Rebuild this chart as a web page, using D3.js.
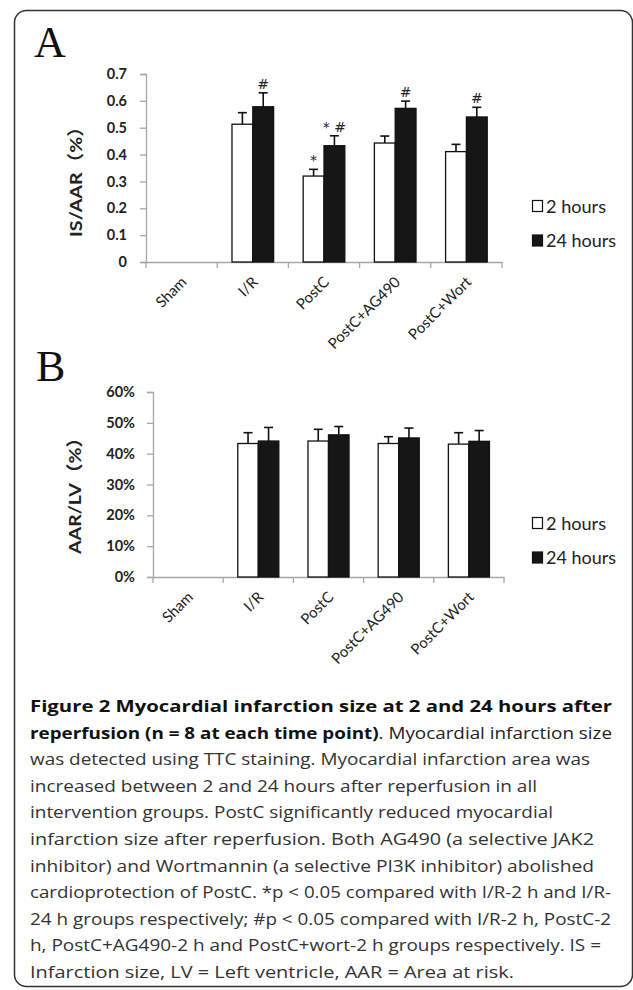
<!DOCTYPE html>
<html>
<head>
<meta charset="utf-8">
<script src="https://cdn.jsdelivr.net/npm/d3@7/dist/d3.min.js"></script>
<style>
  html, body { margin: 0; padding: 0; background: #fff; }
  svg { display: block; }
</style>
</head>
<body>
<script>
// ---------- DATA ----------
const categories = ["Sham", "I/R", "PostC", "PostC+AG490", "PostC+Wort"];
const seriesNames = ["2 hours", "24 hours"];

// Panel A: IS/AAR
const isAar2h     = [null, 0.513, 0.320, 0.443, 0.411];
const isAar2hErr  = [null, 0.043, 0.025, 0.026, 0.027];
const isAar24h    = [null, 0.578, 0.433, 0.572, 0.540];
const isAar24hErr = [null, 0.052, 0.037, 0.027, 0.036];
const isAarTicks  = [0, 0.1, 0.2, 0.3, 0.4, 0.5, 0.6, 0.7];
const sigA2h      = ["", "", "*", "", ""];
const sigA24h     = ["", "#", "* #", "#", "#"];

// Panel B: AAR/LV
const aarLv2h     = [null, 0.433, 0.441, 0.433, 0.431];
const aarLv2hErr  = [null, 0.035, 0.038, 0.022, 0.037];
const aarLv24h    = [null, 0.441, 0.461, 0.451, 0.440];
const aarLv24hErr = [null, 0.044, 0.027, 0.032, 0.035];
const aarLvTicks  = [0, 0.1, 0.2, 0.3, 0.4, 0.5, 0.6];

const captionBold1 = "Figure 2 Myocardial infarction size at 2 and 24 hours after";
const captionBold2 = "reperfusion (n = 8 at each time point)";
const captionRest2 = ". Myocardial infarction size";
const captionLines = [
  "was detected using TTC staining. Myocardial infarction area was",
  "increased between 2 and 24 hours after reperfusion in all",
  "intervention groups. PostC significantly reduced myocardial",
  "infarction size after reperfusion. Both AG490 (a selective JAK2",
  "inhibitor) and Wortmannin (a selective PI3K inhibitor) abolished",
  "cardioprotection of PostC. *p < 0.05 compared with I/R-2 h and I/R-",
  "24 h groups respectively; #p < 0.05 compared with I/R-2 h, PostC-2",
  "h, PostC+AG490-2 h and PostC+wort-2 h groups respectively. IS =",
  "Infarction size, LV = Left ventricle, AAR = Area at risk."
];

// ---------- DRAW ----------
const W = 633, H = 990;
const svg = d3.select("body").append("svg").attr("width", W).attr("height", H);

svg.append("rect")
  .attr("x", 14.5).attr("y", 10.5).attr("width", 618).attr("height", 976)
  .attr("rx", 12).attr("ry", 12)
  .attr("fill", "none").attr("stroke", "#333").attr("stroke-width", 1.5);

const chartFont = "Lato, 'Open Sans', sans-serif";
const textColor = "#222";
const axisColor = "#a6a6a6";

function drawPanel(cfg) {
  const g = svg.append("g");
  const y = d3.scaleLinear().domain(cfg.domain).range([cfg.bottom, cfg.top]);
  const x0 = d3.scaleBand().domain(categories).range([cfg.left, cfg.right]).paddingInner(0).paddingOuter(0);
  const x1 = d3.scaleBand().domain(seriesNames).range([0, x0.bandwidth()]).paddingOuter(0.71).paddingInner(0);

  // letter
  g.append("text").attr("x", cfg.letterX).attr("y", cfg.letterY)
    .attr("font-family", "'Liberation Serif', 'DejaVu Serif', serif")
    .attr("font-size", 44).attr("fill", "#111").text(cfg.letter);

  // y axis
  const yAxis = d3.axisLeft(y).tickValues(cfg.ticks).tickSize(6).tickPadding(cfg.tickPad).tickFormat(cfg.fmt);
  const ya = g.append("g").attr("transform", `translate(${cfg.left},0)`).call(yAxis);
  ya.select(".domain").attr("stroke", axisColor).attr("stroke-width", 1.3);
  ya.selectAll(".tick line").attr("stroke", axisColor).attr("stroke-width", 1.3);
  ya.selectAll(".tick text").attr("font-family", chartFont).attr("font-weight", "bold")
    .attr("font-size", 14.5).attr("fill", textColor);

  // x axis
  const xAxis = d3.axisBottom(x0).tickSize(0).tickFormat("");
  const xa = g.append("g").attr("transform", `translate(0,${cfg.bottom})`).call(xAxis);
  xa.select(".domain").attr("stroke", axisColor).attr("stroke-width", 1.3);
  xa.selectAll(".tick").remove();
  const boundaries = categories.map(c => x0(c)).concat([x0(categories[categories.length - 1]) + x0.bandwidth()]);
  xa.selectAll("line.bnd").data(boundaries).enter().append("line")
    .attr("x1", d => d).attr("x2", d => d).attr("y1", 0).attr("y2", 6)
    .attr("stroke", axisColor).attr("stroke-width", 1.3);

  // x labels
  g.selectAll("text.xl").data(categories).enter().append("text")
    .attr("transform", d => `translate(${x0(d) + x0.bandwidth() / 2 + 6},${cfg.bottom + 21}) rotate(-45)`)
    .attr("text-anchor", "end")
    .attr("font-family", chartFont).attr("font-size", 15).attr("fill", textColor)
    .text(d => d);

  // y title
  g.append("text")
    .attr("transform", `translate(${cfg.titleX},${cfg.titleY}) rotate(-90)`)
    .attr("text-anchor", "middle").attr("dominant-baseline", "central")
    .attr("font-family", "Lato, 'Noto Sans CJK SC', sans-serif").attr("font-weight", "bold")
    .attr("font-size", 17).attr("fill", textColor)
    .attr("textLength", cfg.titleLen).attr("lengthAdjust", "spacingAndGlyphs")
    .text(cfg.title);

  // bars
  const series = [
    { name: seriesNames[0], vals: cfg.s1, errs: cfg.e1, sig: cfg.sig1, fill: "#ffffff" },
    { name: seriesNames[1], vals: cfg.s2, errs: cfg.e2, sig: cfg.sig2, fill: "#161616" }
  ];
  series.forEach(s => {
    const pts = categories.map((c, i) => ({ c, v: s.vals[i], e: s.errs[i], sig: s.sig ? s.sig[i] : "" }))
      .filter(d => d.v != null);
    const bx = d => x0(d.c) + x1(s.name);
    const bw = x1.bandwidth();
    g.selectAll(null).data(pts).enter().append("line")
      .attr("x1", d => bx(d) + bw / 2).attr("x2", d => bx(d) + bw / 2)
      .attr("y1", d => y(d.v)).attr("y2", d => y(d.v + d.e))
      .attr("stroke", "#111").attr("stroke-width", 1.6);
    g.selectAll(null).data(pts).enter().append("line")
      .attr("x1", d => bx(d) + bw / 2 - 4.5).attr("x2", d => bx(d) + bw / 2 + 4.5)
      .attr("y1", d => y(d.v + d.e)).attr("y2", d => y(d.v + d.e))
      .attr("stroke", "#111").attr("stroke-width", 1.6);
    g.selectAll(null).data(pts).enter().append("rect")
      .attr("x", d => bx(d)).attr("width", bw)
      .attr("y", d => y(d.v)).attr("height", d => y(0) - y(d.v))
      .attr("fill", s.fill).attr("stroke", "#111").attr("stroke-width", 1.3);
    g.selectAll(null).data(pts.filter(d => d.sig)).enter().append("text")
      .attr("x", d => bx(d) + bw / 2).attr("y", d => y(d.v + d.e) - 4)
      .attr("text-anchor", "middle")
      .attr("font-family", "'DejaVu Sans', sans-serif").attr("font-size", 14).attr("fill", "#222")
      .attr("xml:space", "preserve")
      .text(d => d.sig);
  });

  // legend
  const lg = g.append("g");
  seriesNames.forEach((n, i) => {
    const cy = cfg.legY + i * 34.5;
    lg.append("rect").attr("x", 532.5).attr("y", cy - 5.5).attr("width", 10).attr("height", 11)
      .attr("fill", i === 0 ? "#fff" : "#161616").attr("stroke", "#111").attr("stroke-width", 1.2);
    lg.append("text").attr("x", 546).attr("y", cy).attr("dominant-baseline", "central")
      .attr("font-family", chartFont).attr("font-size", 17).attr("fill", textColor)
      .attr("textLength", i === 0 ? 60 : 70).attr("lengthAdjust", "spacingAndGlyphs")
      .text(n);
  });
}

drawPanel({
  letter: "A", letterX: 34, letterY: 57,
  left: 146, right: 502, top: 74, bottom: 262, domain: [0, 0.7],
  ticks: isAarTicks, fmt: d => d === 0 ? "0" : d3.format(".1f")(d), tickPad: 13,
  title: "IS/AAR（%）", titleX: 75, titleY: 177, titleLen: 120,
  s1: isAar2h, e1: isAar2hErr, s2: isAar24h, e2: isAar24hErr, sig1: sigA2h, sig2: sigA24h,
  legY: 206
});

drawPanel({
  letter: "B", letterX: 36, letterY: 381,
  left: 153, right: 504, top: 392, bottom: 577, domain: [0, 0.6],
  ticks: aarLvTicks, fmt: d3.format(".0%"), tickPad: 12,
  title: "AAR/LV（%）", titleX: 74, titleY: 491, titleLen: 126,
  s1: aarLv2h, e1: aarLv2hErr, s2: aarLv24h, e2: aarLv24hErr, sig1: null, sig2: null,
  legY: 523
});

// caption
const capFont = "'Open Sans', 'Noto Sans', sans-serif";
const capX = 30, capY0 = 712, capDy = 26.6, capSize = 16.5;
const lineLens = [612, 612, 590, 537, 553, 594, 594, 611, 611, 601, 514];
svg.append("text").attr("x", capX).attr("y", capY0)
  .attr("font-family", capFont).attr("font-weight", "bold").attr("font-size", capSize).attr("fill", "#111")
  .attr("textLength", lineLens[0] - capX).attr("lengthAdjust", "spacingAndGlyphs")
  .text(captionBold1);
const l2 = svg.append("text").attr("x", capX).attr("y", capY0 + capDy)
  .attr("font-family", capFont).attr("font-size", capSize).attr("fill", "#222")
  .attr("textLength", lineLens[1] - capX).attr("lengthAdjust", "spacingAndGlyphs");
l2.append("tspan").attr("font-weight", "bold").attr("fill", "#111").text(captionBold2);
l2.append("tspan").text(captionRest2);
svg.selectAll("text.cap").data(captionLines).enter().append("text")
  .attr("class", "cap")
  .attr("x", capX).attr("y", (d, i) => capY0 + capDy * (i + 2))
  .attr("font-family", capFont).attr("font-size", capSize).attr("fill", "#333")
  .attr("textLength", (d, i) => lineLens[i + 2] - capX).attr("lengthAdjust", "spacingAndGlyphs")
  .text(d => d);
</script>
</body>
</html>
